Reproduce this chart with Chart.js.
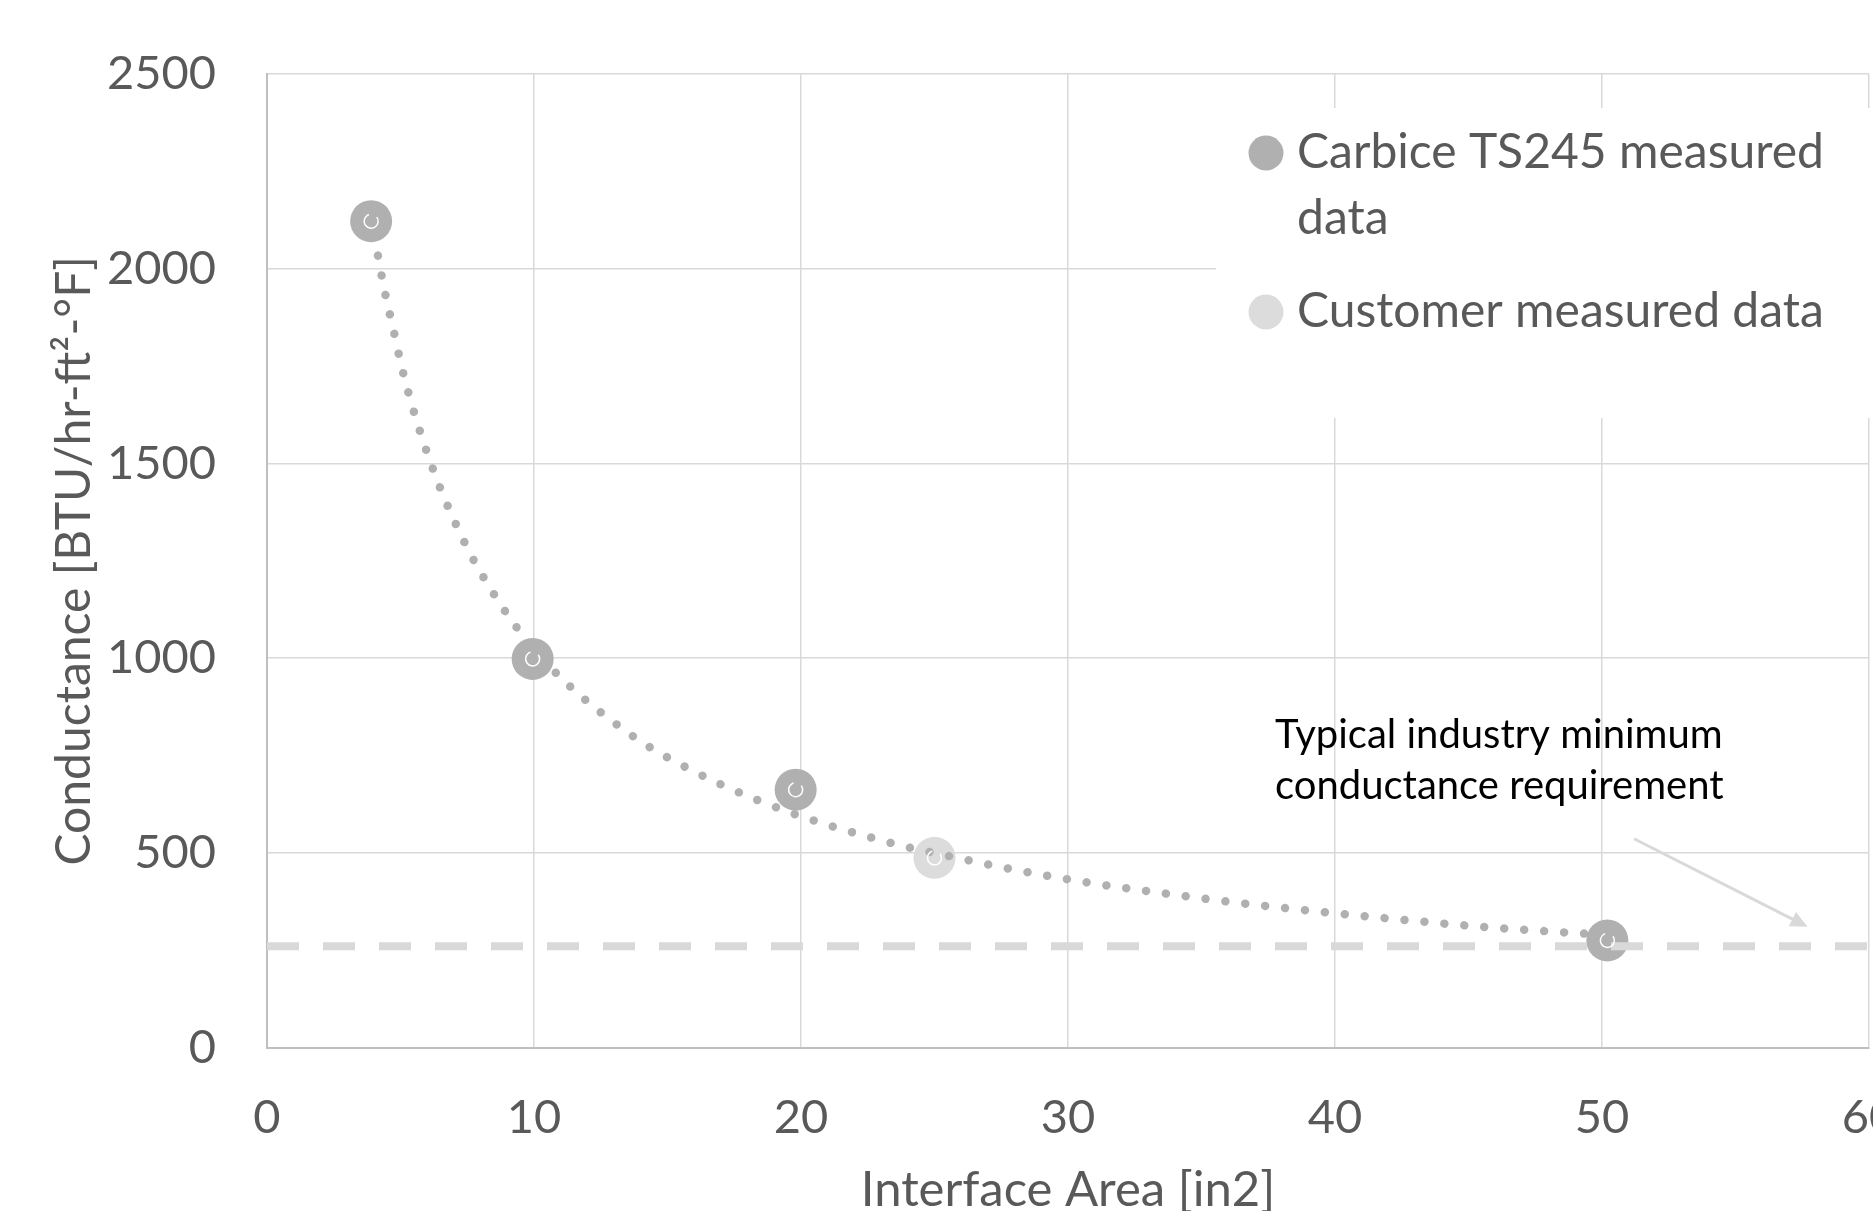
<!DOCTYPE html>
<html>
<head>
<meta charset="utf-8">
<script src="https://cdn.jsdelivr.net/npm/chart.js@4.4.0/dist/chart.umd.min.js"></script>
<style>
  html, body { margin: 0; padding: 0; background: #fff; overflow: hidden; }
  .chart-container { position: absolute; left: 0; top: 0; width: 1890px; height: 1240px; }
</style>
</head>
<body>
<div class="chart-container"><canvas id="myChart"></canvas></div>
<script>
// values
const carbiceArea = [3.9, 9.95, 19.8, 50.2];
const carbiceConductance = [2122, 998, 662, 275];
const customerArea = [25];
const customerConductance = [487];

// dotted power trendline, sampled along the drawn curve
const trendArea = [3.9, 4.11, 4.39, 4.72, 5.05, 5.44, 5.9, 6.41, 7.0, 7.65, 8.41, 9.25, 10.71, 11.8, 12.97, 14.2, 15.51, 16.86, 18.24, 19.65, 21.07, 22.53, 23.96, 25.45, 27.65, 30.61, 33.58, 36.56, 39.53, 42.52, 45.5, 48.49, 50.2];
const trendConductance = [2135, 2051, 1948, 1848, 1746, 1647, 1547, 1450, 1355, 1263, 1174, 1088, 970, 900, 836, 777, 726, 680, 639, 602, 570, 541, 515, 493, 461, 425, 396, 370, 348, 328, 310, 296, 289];

const requirementArea = [0, 60];
const requirementConductance = [260, 260];

const xTicks = [0, 10, 20, 30, 40, 50, 60];
const yTicks = [0, 500, 1000, 1500, 2000, 2500];

const toPoints = (xs, ys) => xs.map((x, i) => ({ x: x, y: ys[i] }));

const FONT = 'Lato, "Open Sans", sans-serif';
const TEXT_GREY = '#595959';

// legend box, annotation and the small highlight rings in the markers
const extrasPlugin = {
  id: 'extras',
  beforeDatasetsDraw(chart) {
    const ctx = chart.ctx;
    ctx.save();
    ctx.fillStyle = '#ffffff';
    ctx.fillRect(1216, 108, 700, 310);

    const items = [
      { color: chart.data.datasets[3].backgroundColor, lines: ['Carbice TS245 measured', 'data'], y: 153 },
      { color: chart.data.datasets[2].backgroundColor, lines: ['Customer measured data'], y: 312 },
    ];
    ctx.font = '48px ' + FONT;
    ctx.textBaseline = 'middle';
    ctx.textAlign = 'left';
    items.forEach(item => {
      ctx.fillStyle = item.color;
      ctx.beginPath();
      ctx.arc(1266, item.y, 17.5, 0, Math.PI * 2);
      ctx.fill();
      ctx.fillStyle = TEXT_GREY;
      item.lines.forEach((t, i) => ctx.fillText(t, 1297, item.y + i * 66));
    });

    // annotation text + arrow
    ctx.fillStyle = '#000000';
    ctx.font = '40px ' + FONT;
    ctx.fillText('Typical industry minimum', 1275, 735);
    ctx.fillText('conductance requirement', 1275, 786);

    const xs = chart.scales.x, ys = chart.scales.y;
    const x0 = xs.getPixelForValue(51.2), y0 = ys.getPixelForValue(536);
    const x1 = xs.getPixelForValue(57.7), y1 = ys.getPixelForValue(310);
    const ang = Math.atan2(y1 - y0, x1 - x0);
    ctx.strokeStyle = '#d9d9d9';
    ctx.fillStyle = '#d9d9d9';
    ctx.lineWidth = 3;
    ctx.beginPath();
    ctx.moveTo(x0, y0);
    ctx.lineTo(x1 - 12 * Math.cos(ang), y1 - 12 * Math.sin(ang));
    ctx.stroke();
    ctx.beginPath();
    ctx.moveTo(x1, y1);
    ctx.lineTo(x1 - 17 * Math.cos(ang) + 8 * Math.sin(ang), y1 - 17 * Math.sin(ang) - 8 * Math.cos(ang));
    ctx.lineTo(x1 - 17 * Math.cos(ang) - 8 * Math.sin(ang), y1 - 17 * Math.sin(ang) + 8 * Math.cos(ang));
    ctx.closePath();
    ctx.fill();
    ctx.restore();
  },
  afterDatasetsDraw(chart) {
    const ctx = chart.ctx;
    ctx.save();
    ctx.strokeStyle = '#ffffff';
    ctx.lineWidth = 1.5;
    [2, 3].forEach(i => {
      chart.getDatasetMeta(i).data.forEach(el => {
        ctx.beginPath();
        ctx.arc(el.x, el.y, 7, -0.2 * Math.PI, 1.4 * Math.PI);
        ctx.stroke();
      });
    });
    ctx.restore();
  }
};

const ctx = document.getElementById('myChart').getContext('2d');

const chartInstance = new Chart(ctx, {
  type: 'scatter',
  data: {
    datasets: [
      {
        label: 'Typical industry minimum',
        type: 'line',
        data: toPoints(requirementArea, requirementConductance),
        borderColor: '#d9d9d9',
        borderWidth: 8,
        borderDash: [32, 24],
        pointRadius: 0,
        fill: false,
        order: 0,
      },
      {
        label: 'Power trend',
        type: 'line',
        data: toPoints(trendArea, trendConductance),
        borderColor: '#b0b0b0',
        borderWidth: 8.5,
        borderDash: [0.01, 20],
        borderCapStyle: 'round',
        cubicInterpolationMode: 'monotone',
        pointRadius: 0,
        fill: false,
        order: 1,
      },
      {
        label: 'Customer measured data',
        data: toPoints(customerArea, customerConductance),
        backgroundColor: '#dcdcdc',
        borderWidth: 0,
        pointRadius: 21,
        order: 2,
      },
      {
        label: 'Carbice TS245 measured data',
        data: toPoints(carbiceArea, carbiceConductance),
        backgroundColor: '#b0b0b0',
        borderWidth: 0,
        pointRadius: 21,
        order: 3,
      },
    ],
  },
  options: {
    responsive: true,
    maintainAspectRatio: false,
    animation: false,
    layout: { padding: { top: 74, right: 6, left: 0, bottom: 0 } },
    plugins: {
      legend: { display: false },
      tooltip: { enabled: false },
    },
    scales: {
      x: {
        type: 'linear',
        min: 0,
        max: 60,
        afterBuildTicks: s => { s.ticks = xTicks.map(v => ({ value: v })); },
        afterFit: s => { s.height = 1240 - 1047.5; s.paddingLeft = 0; s.paddingRight = 0; },
        grid: { color: '#d9d9d9', lineWidth: 1.5, drawTicks: false },
        border: { color: '#bfbfbf', width: 2 },
        ticks: { color: TEXT_GREY, font: { family: FONT, size: 47 }, padding: 42, maxRotation: 0 },
        title: {
          display: true,
          text: 'Interface Area [in2]',
          color: TEXT_GREY,
          font: { family: FONT, size: 49 },
          padding: { top: 0, bottom: 20 },
        },
      },
      y: {
        type: 'linear',
        min: 0,
        max: 2500,
        afterBuildTicks: s => { s.ticks = yTicks.map(v => ({ value: v })); },
        afterFit: s => { s.width = 267; s.paddingTop = 0; s.paddingBottom = 0; },
        grid: { color: '#d9d9d9', lineWidth: 1.5, drawTicks: false },
        border: { color: '#bfbfbf', width: 2 },
        ticks: {
          color: TEXT_GREY,
          font: { family: FONT, size: 47 },
          padding: 51,
          callback: v => String(v),
        },
        title: {
          display: true,
          text: 'Conductance [BTU/hr-ft\u00B2-\u00B0F]',
          color: TEXT_GREY,
          font: { family: FONT, size: 48 },
          padding: { top: 46, bottom: 0 },
        },
      },
    },
  },
  plugins: [extrasPlugin],
});
</script>
</body>
</html>
